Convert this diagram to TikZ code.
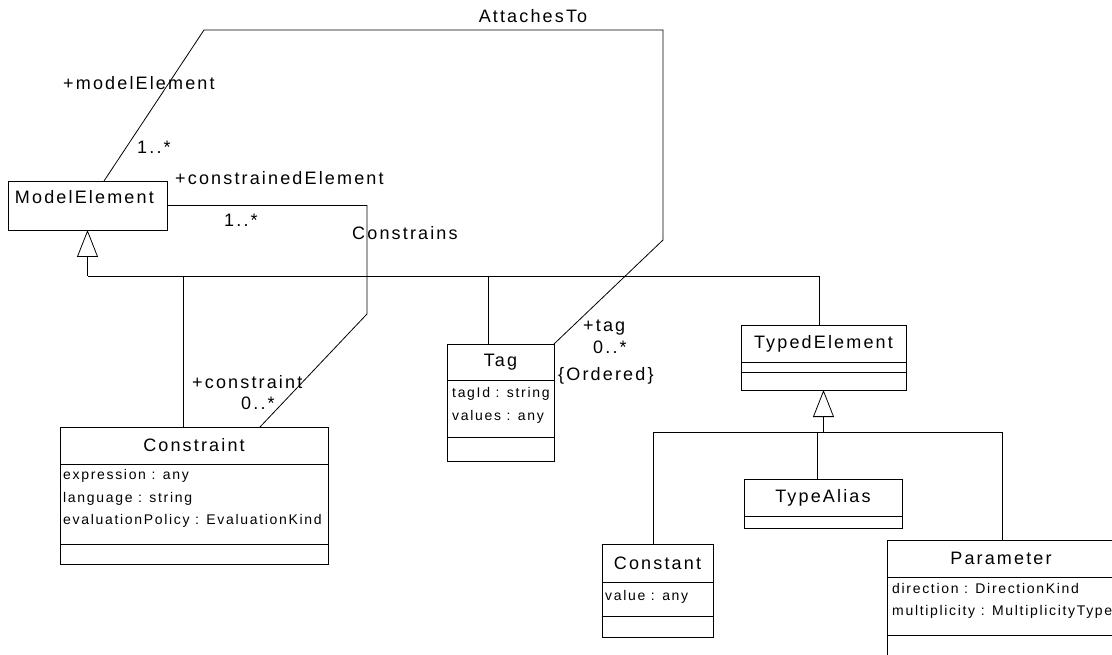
\documentclass[tikz,border=0pt]{standalone}
\usepackage{fontspec}
\setmainfont{Liberation Sans}[LetterSpace=12]
\usetikzlibrary{positioning,calc,arrows.meta}
\tikzstyle{class_name} = [rectangle, draw=black, line width=0.9pt, inner sep=0pt, outer sep=0pt,
font=\fontsize{18}{20}\selectfont]
\tikzstyle{class_part} = [rectangle, draw=black, line width=0.9pt, inner sep=0pt, outer sep=0pt]
\tikzstyle{attr} = [anchor=base west, inner sep=0pt, font=\fontsize{14}{16}\selectfont]
\tikzstyle{role} = [anchor=base west, inner sep=0pt, font=\fontsize{18}{20}\selectfont]
\tikzstyle{assoc} = [line width=0.8pt]
\tikzstyle{inherit} = [line width=0.8pt, -{Triangle[open, length=27pt, width=21pt]}]

\begin{document}
\begin{tikzpicture}[x=1pt, y=-1pt]
\useasboundingbox (0,0) rectangle (1112,655);
\clip (0,0) rectangle (1112,655);

% ModelElement
\node[class_part, anchor=north west, text width=145pt, inner xsep=7pt, inner ysep=2pt,
  text height=21pt, text depth=24pt, font=\fontsize{18}{20}\selectfont] (Model_Element) at (8,181) {ModelElement};

% Constraint
\node[class_name, anchor=north west, minimum width=268pt, minimum height=37pt] (Constraint_Name) at (60,427) {Constraint};
\node[class_part, below=0pt of Constraint_Name, minimum width=268pt, minimum height=80pt] (Constraint_Attrs) {};
\node[class_part, below=0pt of Constraint_Attrs, minimum width=268pt, minimum height=20pt] (Constraint_Ops) {};
\node[attr] (Constraint_Expr) at ($(Constraint_Attrs.north west)+(3,15)$) {expression : any};
\node[attr] (Constraint_Lang) at ($(Constraint_Attrs.north west)+(3,38)$) {language : string};
\node[attr] (Constraint_Eval) at ($(Constraint_Attrs.north west)+(3,60)$) {evaluationPolicy : EvaluationKind};

% Tag
\node[class_name, anchor=north west, minimum width=107pt, minimum height=36pt] (Tag_Name) at (447,344) {Tag};
\node[class_part, below=0pt of Tag_Name, minimum width=107pt, minimum height=57pt] (Tag_Attrs) {};
\node[class_part, below=0pt of Tag_Attrs, minimum width=107pt, minimum height=24pt] (Tag_Ops) {};
\node[attr] (Tag_Id) at ($(Tag_Attrs.north west)+(5,17)$) {tagId : string};
\node[attr] (Tag_Values) at ($(Tag_Attrs.north west)+(5,40)$) {values : any};

% TypedElement
\node[class_name, anchor=north west, minimum width=165pt, minimum height=37pt] (Typed_Name) at (741,325) {TypedElement};
\node[class_part, below=0pt of Typed_Name, minimum width=165pt, minimum height=10pt] (Typed_Attrs) {};
\node[class_part, below=0pt of Typed_Attrs, minimum width=165pt, minimum height=18pt] (Typed_Ops) {};

% TypeAlias
\node[class_name, anchor=north west, minimum width=158pt, minimum height=37pt] (Alias_Name) at (744,479) {TypeAlias};
\node[class_part, below=0pt of Alias_Name, minimum width=158pt, minimum height=12pt] (Alias_Ops) {};

% Constant
\node[class_name, anchor=north west, minimum width=111pt, minimum height=38pt] (Constant_Name) at (602,544) {Constant};
\node[class_part, below=0pt of Constant_Name, minimum width=111pt, minimum height=34pt] (Constant_Attrs) {};
\node[class_part, below=0pt of Constant_Attrs, minimum width=111pt, minimum height=21pt] (Constant_Ops) {};
\node[attr] (Constant_Value) at ($(Constant_Attrs.north west)+(3,18)$) {value : any};

% Parameter
\node[class_name, anchor=north west, minimum width=228pt, minimum height=37pt] (Parameter_Name) at (887,540) {Parameter};
\node[class_part, below=0pt of Parameter_Name, minimum width=228pt, minimum height=58pt] (Parameter_Attrs) {};
\node[class_part, below=0pt of Parameter_Attrs, minimum width=228pt, minimum height=40pt] (Parameter_Ops) {};
\node[attr] (Parameter_Dir) at ($(Parameter_Attrs.north west)+(5,16)$) {direction : DirectionKind};
\node[attr] (Parameter_Mult) at ($(Parameter_Attrs.north west)+(5,38)$) {multiplicity : MultiplicityType};

% Generalization to ModelElement
\coordinate (Gen_Model) at ($(Model_Element.south)+(0,46)$);
\draw [inherit] (Gen_Model) -- (Model_Element.south);
\draw [assoc] ($(Constraint_Name.north west)+(123,0)$) |- (Gen_Model);
\draw [assoc] ($(Tag_Name.north west)+(41,0)$) |- (Gen_Model);
\draw [assoc] ($(Typed_Name.north west)+(78,0)$) |- (Gen_Model);

% Generalization to TypedElement
\coordinate (Gen_Typed) at ($(Typed_Ops.south)+(0,42)$);
\draw [inherit] (Gen_Typed) -- (Typed_Ops.south);
\draw [assoc] ($(Constant_Name.north west)+(51,0)$) |- (Gen_Typed);
\draw [assoc] ($(Alias_Name.north west)+(73,0)$) |- (Gen_Typed);
\draw [assoc] ($(Parameter_Name.north west)+(115,0)$) |- (Gen_Typed);

% AttachesTo
\coordinate (Attach_Corner) at (204,30);
\coordinate (Attach_Bend) at (663,240);
\draw [assoc] ($(Model_Element.north west)+(96,0)$) -- (Attach_Corner) -| (Attach_Bend) -- (Tag_Name.north east);
\node[role, anchor=base] (Attach_Label) at (533,23) {AttachesTo};
\node[role] (Model_Role) at (63,90) {+modelElement};
\node[role] (Model_Mult) at (137,154) {1..*};
\node[role] (Tag_Role) at (583,331) {+tag};
\node[role] (Tag_Mult) at (593,353) {0..*};
\node[role] (Tag_Order) at (558,380) {\{Ordered\}};

% Constrains
\coordinate (Constrains_Bend) at (367,314);
\draw [assoc] (Model_Element.east) -| (Constrains_Bend) -- ($(Constraint_Name.north west)+(200,0)$);
\node[role] (Constrains_Label) at (352,240) {Constrains};
\node[role] (Constrained_Role) at (175,185) {+constrainedElement};
\node[role] (Constrained_Mult) at (224,227) {1..*};
\node[role] (Constraint_Role) at (192,388) {+constraint};
\node[role] (Constraint_Mult) at (241,409) {0..*};

\end{tikzpicture}
\end{document}
